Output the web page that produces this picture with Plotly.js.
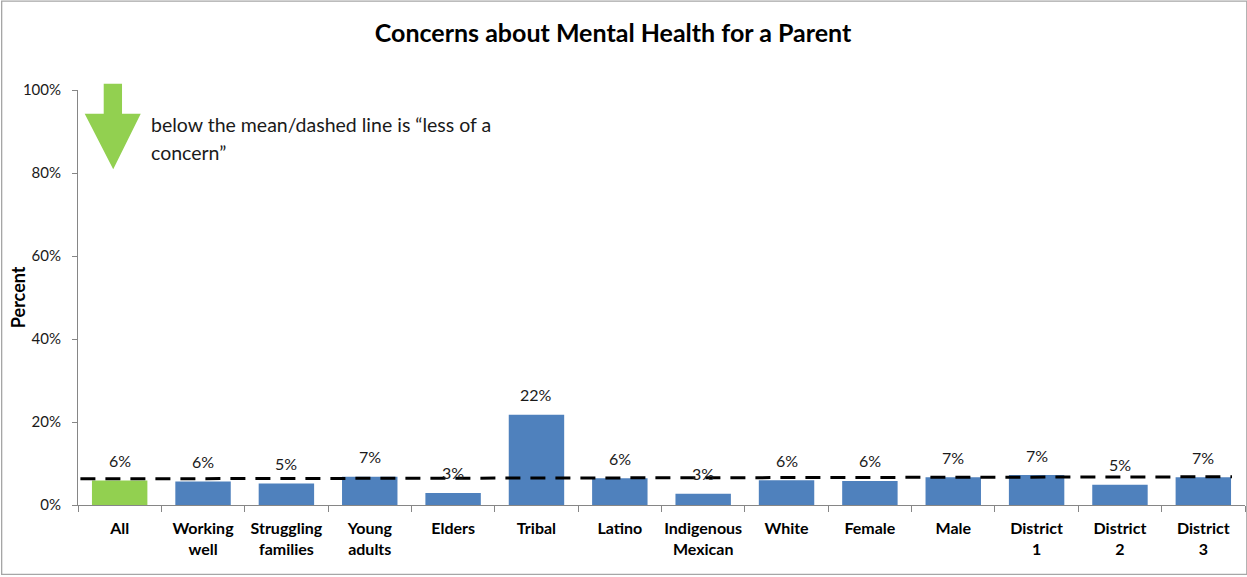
<!DOCTYPE html>
<html>
<head>
<meta charset="utf-8">
<script src="https://cdn.plot.ly/plotly-3.0.1.min.js"></script>
<style>html,body{margin:0;padding:0;background:#fff;}#chart{width:1247px;height:577px;}</style>
</head>
<body>
<div id="chart"></div>
<script>
// ---- data ----
const categories = ["All", "Working<br>well", "Struggling<br>families", "Young<br>adults", "Elders", "Tribal", "Latino", "Indigenous<br>Mexican", "White", "Female", "Male", "District<br>1", "District<br>2", "District<br>3"];
const values = [5.9, 5.65, 5.2, 6.8, 2.9, 21.75, 6.45, 2.7, 5.95, 5.8, 6.7, 7.2, 4.9, 6.7];
const valueLabels = ["6%", "6%", "5%", "7%", "3%", "22%", "6%", "3%", "6%", "6%", "7%", "7%", "5%", "7%"];
const meanLine = [6.3, 6.8];       // dashed mean line, left end / right end (percent)
const yTicks = [0, 20, 40, 60, 80, 100];

const FONT = "Lato, 'Open Sans', sans-serif";
const barColors = categories.map((c, i) => i === 0 ? "#92D050" : "#4F81BD");

const trace = {
  type: "bar",
  x: categories,
  y: values,
  marker: {color: barColors},
  hoverinfo: "x+y",
  showlegend: false
};

// pixel -> paper helpers (plot area 78.3..1244.7 x, 89.5..505.5 y)
const PL = 78.3, PR = 1244.7, PT = 89.5, PB = 505.5;
const px = v => (v - PL) / (PR - PL);
const py = v => (PB - v) / (PB - PT);

const annotations = categories.map((c, i) => ({
  x: c, y: values[i], xref: "x", yref: "y",
  text: valueLabels[i], showarrow: false,
  yanchor: "middle", yshift: 20,
  font: {family: FONT, size: 16, color: "#1a1a1a"}
}));
annotations.push({
  xref: "paper", yref: "paper", x: px(149), y: py(124), xanchor: "left", yanchor: "middle",
  text: "below the mean/dashed line is \u201cless of a", showarrow: false,
  font: {family: FONT, size: 19.5, color: "#1a1a1a"}
});
annotations.push({
  xref: "paper", yref: "paper", x: px(149), y: py(152), xanchor: "left", yanchor: "middle",
  text: "concern\u201d", showarrow: false,
  font: {family: FONT, size: 19.5, color: "#1a1a1a"}
});
annotations.push({
  xref: "paper", yref: "paper", x: px(18), y: 0.5, xanchor: "center", yanchor: "middle",
  text: "<b>Percent</b>", textangle: -90, showarrow: false,
  font: {family: FONT, size: 18, color: "#000"}
});

const arrowPath = "M " + px(104) + " " + py(83.3) + " L " + px(122.3) + " " + py(83.3) +
  " L " + px(122.3) + " " + py(113.3) + " L " + px(141) + " " + py(113.3) +
  " L " + px(113.5) + " " + py(169) + " L " + px(85) + " " + py(113.3) +
  " L " + px(104) + " " + py(113.3) + " Z";

const shapes = [
  {type: "line", xref: "paper", yref: "y", x0: px(80.7), x1: px(1231.7), y0: meanLine[0], y1: meanLine[1],
   line: {color: "#000", width: 3, dash: "15px,10px"}},
  {type: "path", xref: "paper", yref: "paper", path: arrowPath, fillcolor: "#92D050", line: {width: 0}},
  {type: "rect", xref: "paper", yref: "paper", x0: px(2), x1: px(1246.5), y0: py(575), y1: py(0.5),
   line: {color: "#A6A6A6", width: 1.3}, fillcolor: "rgba(0,0,0,0)"}
];

const layout = {
  width: 1247, height: 577,
  margin: {l: PL, r: 1247 - PR, t: PT, b: 577 - PB, autoexpand: false},
  paper_bgcolor: "#fff", plot_bgcolor: "#fff",
  bargap: 0.335,
  title: {text: "<b>Concerns about Mental Health for a Parent</b>", xref: "container", yref: "container",
          x: 613 / 1247, y: 1 - 33 / 577, xanchor: "center", yanchor: "middle",
          font: {family: FONT, size: 25, color: "#000"}},
  xaxis: {
    type: "category", showgrid: false, zeroline: false,
    showline: true, linecolor: "#868686", linewidth: 1,
    ticks: "outside", tickson: "boundaries", ticklen: 6, tickcolor: "#868686",
    tickangle: 0,
    tickfont: {family: FONT, size: 16, color: "#000", weight: "bold"},
    ticklabelstandoff: 9,
    fixedrange: true
  },
  yaxis: {
    range: [0, 100], tickvals: yTicks, ticktext: yTicks.map(v => v + "%"),
    showgrid: false, zeroline: false,
    showline: true, linecolor: "#868686", linewidth: 1,
    ticks: "outside", ticklen: 5, tickcolor: "#868686",
    tickfont: {family: FONT, size: 15, color: "#1a1a1a"},
    ticklabelstandoff: 8,
    fixedrange: true
  },
  annotations: annotations,
  shapes: shapes,
  showlegend: false
};

Plotly.newPlot("chart", [trace], layout, {displayModeBar: false, staticPlot: true});
</script>
</body>
</html>
